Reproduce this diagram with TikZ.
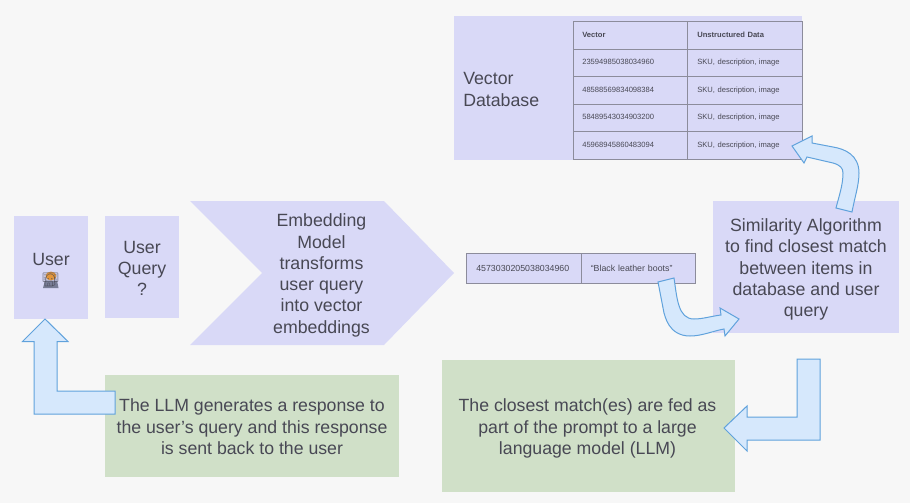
\documentclass[tikz,border=0pt]{standalone}
\usepackage{fontspec}
\setmainfont{Liberation Sans}
\newfontfamily\emojifont{Noto Emoji}
\definecolor{pagebg}{RGB}{247,247,247}
\definecolor{lilac}{RGB}{217,217,247}
\definecolor{palegreen}{RGB}{208,224,200}
\definecolor{arrowfill}{RGB}{214,232,252}
\definecolor{arrowline}{RGB}{96,162,220}
\definecolor{inktext}{RGB}{72,72,84}
\definecolor{tableline}{RGB}{140,140,155}
\definecolor{coderhair}{RGB}{226,150,60}
\definecolor{coderlap}{RGB}{120,125,150}
\newcommand{\coderglyph}{{\emojifont\fontsize{10}{10}\selectfont ^^^^^^01f9d1^^^^200d^^^^^^01f4bb}}
\tikzset{
  panel/.style={fill=lilac,inner sep=0pt,align=center,text=inktext,font=\fontsize{13.3}{15.95}\selectfont},
  greenpanel/.style={fill=palegreen,inner sep=0pt,align=center,text=inktext,font=\fontsize{13.27}{16.2}\selectfont},
  blockarrow/.style={draw=arrowline,fill=arrowfill,line width=0.75pt,line join=miter},
  cellbox/.style={draw=tableline,line width=0.8pt,inner sep=0pt,text=inktext,font=\fontsize{5.7}{6.5}\selectfont,anchor=north west,text height=4.2pt,text depth=1.6pt},
  rowbox/.style={cellbox,fill=lilac,font=\fontsize{6.6}{7.5}\selectfont,text height=5pt,text depth=1.2pt},
}
\begin{document}
\begin{tikzpicture}[x=0.75pt,y=0.75pt,yscale=-1,xscale=1]
\fill[pagebg] (0,0) rectangle (910,503);
\useasboundingbox (0,0) rectangle (910,503);

%Panels
\node [panel,minimum width=74*0.75pt,minimum height=103*0.75pt] (user) at (51,267.5) {};
\node [panel,fill=none] (userlabel) at (51,259) {User};
%Emoji
\fill[coderhair] (51,276) ellipse (5.5 and 4.5);
\fill[coderlap] (45,280.5) -- (57,280.5) -- (58.5,288) -- (43,288) -- cycle;
\node [text=inktext,inner sep=0pt] (coder) at (50.5,280) {\coderglyph};
\node [panel,minimum width=74*0.75pt,minimum height=102*0.75pt] (query) at (142,267) {};
\node [panel,fill=none] (querytext) at (142,268.5) {User\\Query\\?};
\node [panel,minimum width=186*0.75pt,minimum height=132*0.75pt] (similarity) at (806,267) {};
\node [panel,fill=none] (similaritytext) at (806,269.5) {Similarity Algorithm\\to find closest match\\between items in\\database and user\\query};
\node [greenpanel,minimum width=294*0.75pt,minimum height=102*0.75pt] (response) at (252,426) {};
\node [greenpanel,fill=none] (responsetext) at (252,427) {The LLM generates a response to\\the user’s query and this response\\is sent back to the user};
\node [greenpanel,minimum width=293*0.75pt,minimum height=132*0.75pt] (closest) at (588.5,426) {};
\node [greenpanel,fill=none] (closesttext) at (587.5,428.5) {The closest match(es) are fed as\\part of the prompt to a large\\language model (LLM)};

%Chevron
\fill[lilac] (190,201) -- (384,201) -- (454,273) -- (384,345) -- (190,345) -- (262,273) -- cycle;
\node [panel,fill=none] (embedding) at (321.5,275.5) {Embedding\\Model\\transforms\\user query\\into vector\\embeddings};

%Vector database
\fill[lilac] (454,16) rectangle (802,160);
\node [panel,fill=none,align=left,anchor=west] (database) at (463,89.5) {Vector\\Database};

%Table
\foreach \rowname/\ytop/\vectext/\datatext in {
  a/21/{\textbf{Vector}}/{\textbf{Unstructured Data}},
  b/48.6/23594985038034960/{SKU, description, image},
  c/76.2/48588569834098384/{SKU, description, image},
  d/103.8/58489543034903200/{SKU, description, image},
  e/131.4/45968945860483094/{SKU, description, image}} {
  \node [cellbox,minimum width=114.5*0.75pt,minimum height=27.6*0.75pt,text width=96*0.75pt] (vec\rowname) at (572.5,\ytop) {\vectext};
  \node [cellbox,minimum width=114.5*0.75pt,minimum height=27.6*0.75pt,text width=95*0.75pt] (dat\rowname) at (687,\ytop) {\datatext};
}

%Query vector row
\node [rowbox,minimum width=114.5*0.75pt,minimum height=30*0.75pt,text width=95*0.75pt] (qvec) at (466,253) {4573030205038034960};
\node [rowbox,minimum width=114.5*0.75pt,minimum height=30*0.75pt,text width=95*0.75pt] (qtext) at (580.5,253) {“Black leather boots”};

%Block arrows
\draw [blockarrow] (45,319) -- (68,341.5) -- (57,341.5) -- (57,391) -- (115,391) -- (115,414) -- (34,414) -- (34,341.5) -- (22.5,341.5) -- cycle;
\draw [blockarrow] (724,428) -- (747,406) -- (747,417) -- (797,417) -- (797,359) -- (820,359) -- (820,440) -- (747,440) -- (747,451) -- cycle;
\draw [blockarrow] (658,282) -- (674,278) .. controls (677,298) and (678,319) .. (694,319) .. controls (703,319) and (712,316) .. (721,315) -- (720,308) -- (739,319) -- (725,336) -- (724,329) .. controls (713,331) and (702,336) .. (690,336) .. controls (668,336) and (665,315) .. (664,313) -- cycle;
\draw [blockarrow] (836,208) -- (852,212) .. controls (855,196) and (859,185) .. (859,173) .. controls (859,155) and (845,149) .. (833,147) -- (812,143) -- (812,136) -- (792,146) -- (804,163) -- (807,157) -- (833,163) .. controls (840,165) and (843,168) .. (843,173) .. controls (843,185) and (839,196) .. (836,208) -- cycle;
\end{tikzpicture}
\end{document}
